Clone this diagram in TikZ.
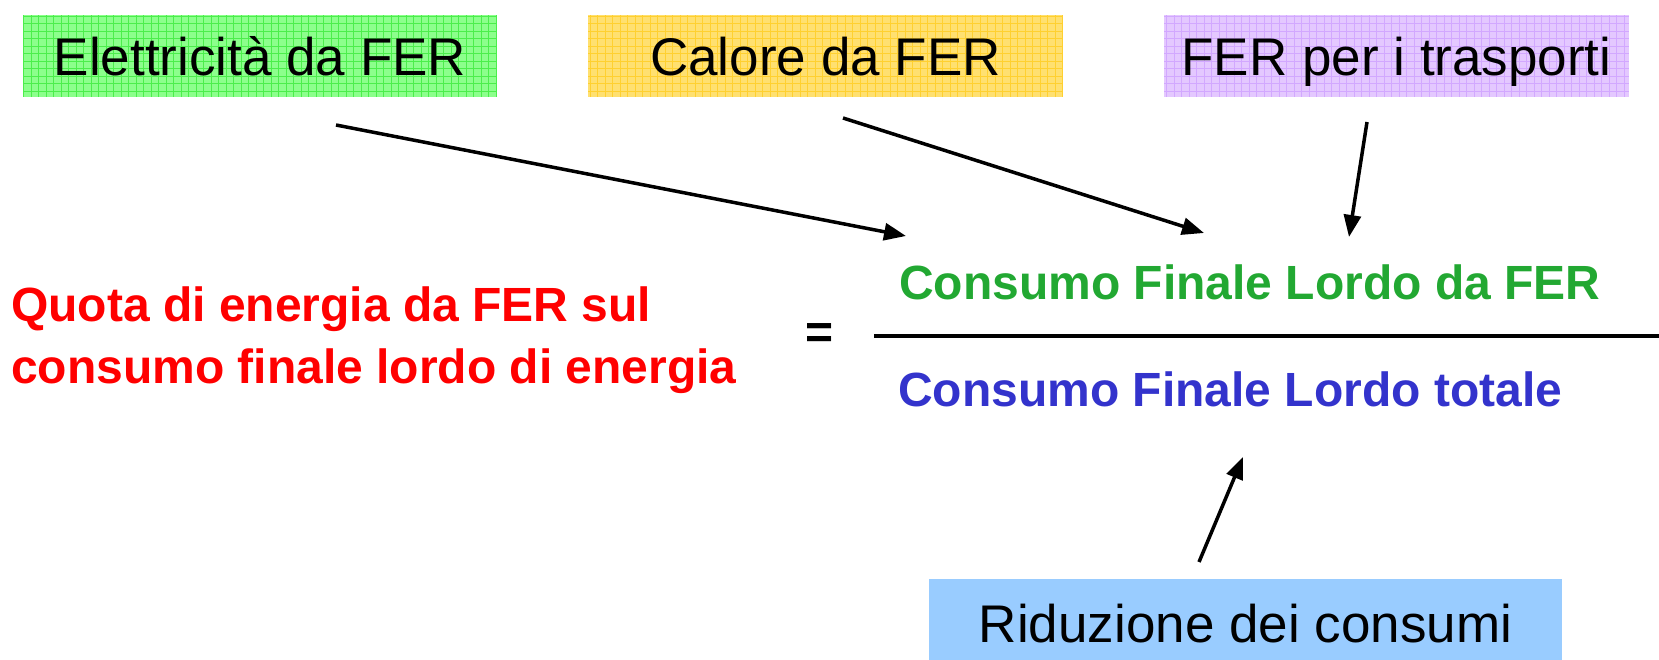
\documentclass[tikz,border=0pt]{standalone}
\usepackage{fontspec}
\setmainfont{Liberation Sans}
\usetikzlibrary{arrows.meta}
\begin{document}
\begin{tikzpicture}[x=1pt, y=-1pt,
  box/.style = {minimum height=82pt, inner sep=0pt, text height=40pt, text depth=0pt, font=\fontsize{53}{60}\selectfont},
  gridded/.style = {path picture={\draw[#1, line width=0.7pt, step=7.5pt] (path picture bounding box.south west) grid (path picture bounding box.north east);}},
  formula/.style = {font=\fontsize{48}{62}\selectfont\bfseries, inner sep=0pt},
  feed/.style = {line width=3.5pt, -{Triangle[length=22pt, width=17pt]}}]
\useasboundingbox (0,0) rectangle (1659,660);
\definecolor{elefill}{HTML}{8CFF8C}
\definecolor{eleline}{HTML}{4CEE4C}
\definecolor{calfill}{HTML}{FFE070}
\definecolor{calline}{HTML}{FFD030}
\definecolor{trafill}{HTML}{E4C8FF}
\definecolor{traline}{HTML}{D2A8FF}
\definecolor{ridfill}{HTML}{99CCFF}
\definecolor{quotared}{HTML}{FF0000}
\definecolor{numgreen}{HTML}{22A832}
\definecolor{denblue}{HTML}{3333CC}
\node[box, fill=elefill, gridded=eleline, minimum width=474pt] (elettricita) at (260,56) {Elettricità da FER};
\node[box, fill=calfill, gridded=calline, minimum width=475pt] (calore) at (825.5,56) {Calore da FER};
\node[box, fill=trafill, gridded=traline, minimum width=465pt] (trasporti) at (1396.5,56) {FER per i trasporti};
\node[box, fill=ridfill, minimum width=633pt, minimum height=86pt] (riduzione) at (1245.5,622) {Riduzione dei consumi};
\node[formula, text=quotared, align=left, anchor=base west] (quota) at (11,383) {Quota di energia da FER sul\\consumo finale lordo di energia};
\node[formula] (uguale) at (820,336) {=};
\node[formula, text=numgreen, anchor=base west] (numeratore) at (899,299) {Consumo Finale Lordo da FER};
\node[formula, text=denblue, anchor=base west] (denominatore) at (898,406) {Consumo Finale Lordo totale};
\coordinate (lineastart) at (874,336);
\coordinate (lineaend) at (1659,336);
\draw[line width=4.5pt] (lineastart) -- (lineaend);
\coordinate (elefrom) at (336,125);
\coordinate (eleto) at (906,236);
\coordinate (calfrom) at (843,118);
\coordinate (calto) at (1204,233);
\coordinate (trafrom) at (1367,122);
\coordinate (trato) at (1349,237);
\coordinate (ridfrom) at (1199,562);
\coordinate (ridto) at (1243,457);
\draw[feed] (elefrom) -- (eleto);
\draw[feed] (calfrom) -- (calto);
\draw[feed] (trafrom) -- (trato);
\draw[feed] (ridfrom) -- (ridto);
\end{tikzpicture}
\end{document}
